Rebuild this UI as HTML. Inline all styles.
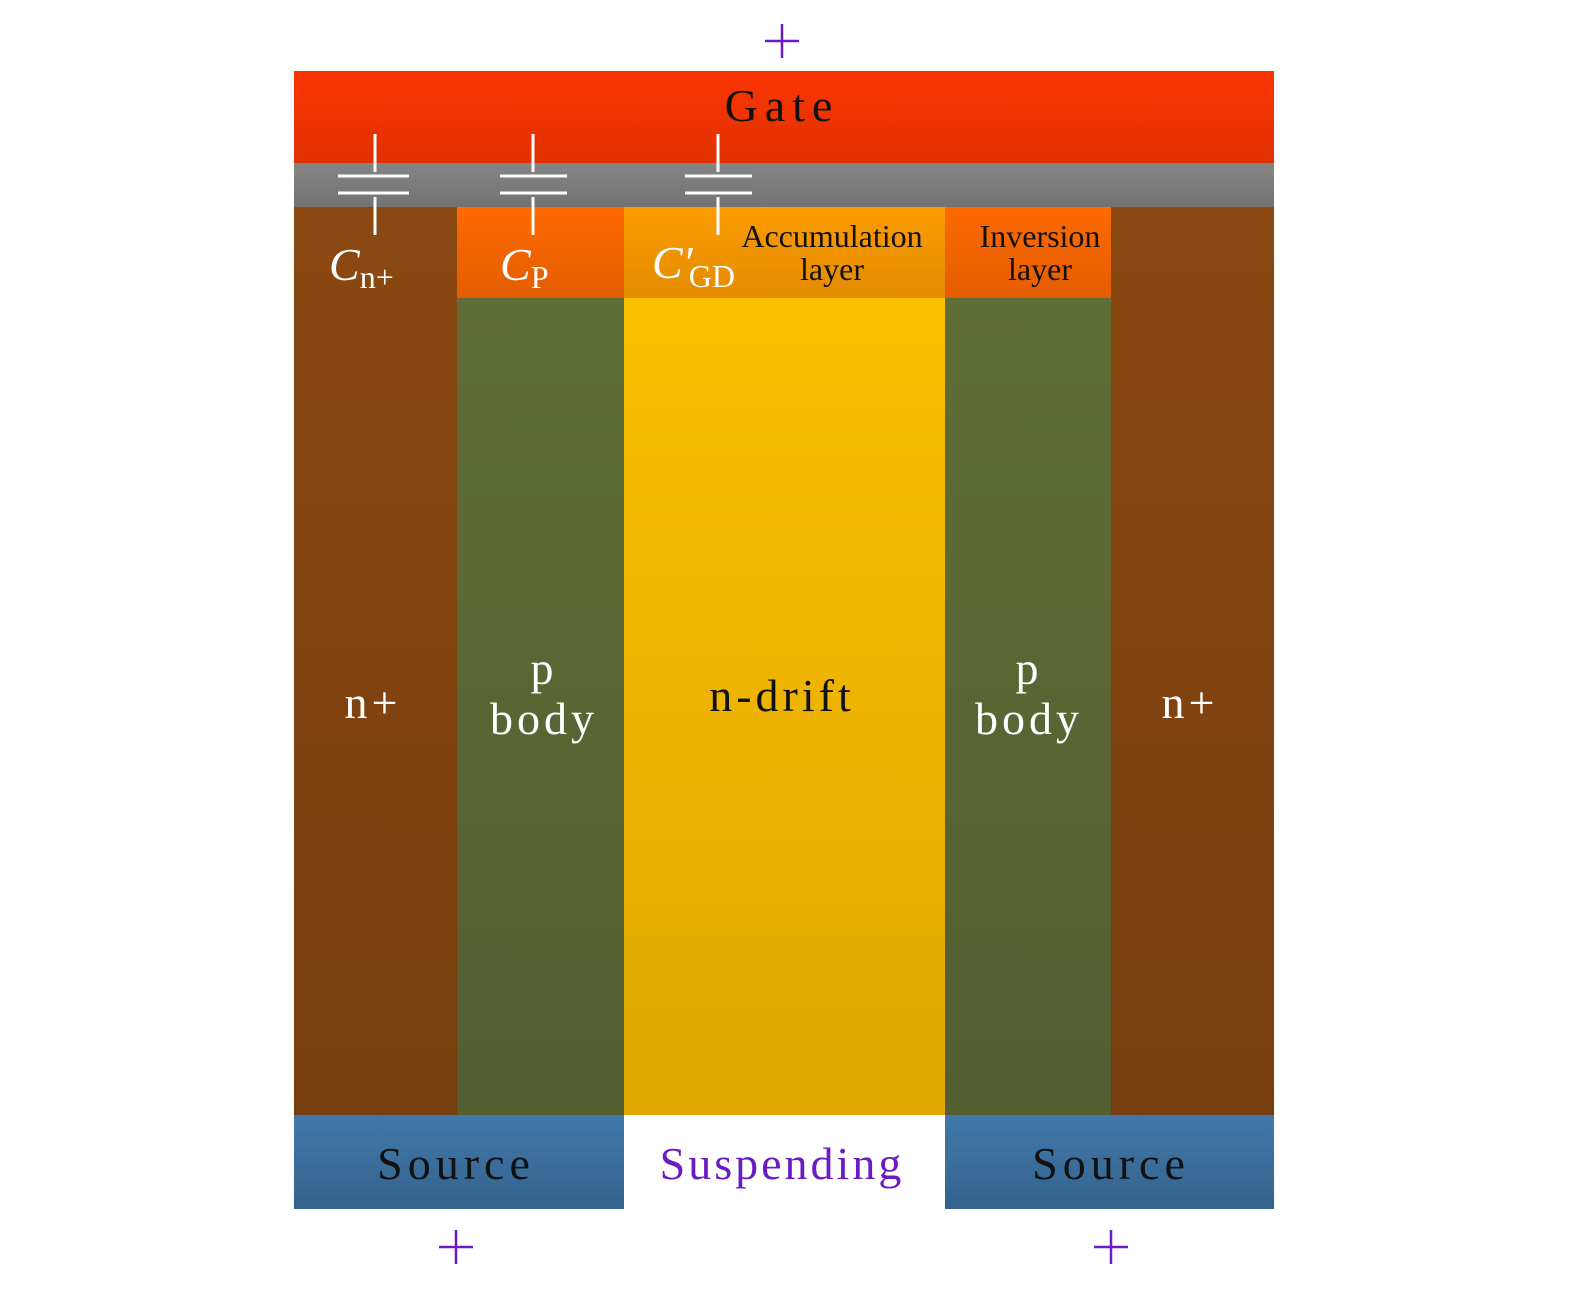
<!DOCTYPE html>
<html><head><style>html,body{margin:0;padding:0;background:#fff;}</style></head>
<body>
<svg width="1575" height="1289" xmlns="http://www.w3.org/2000/svg" font-family="Liberation Serif, serif">
<defs>
<linearGradient id="gate" x1="0" y1="0" x2="0" y2="1"><stop offset="0" stop-color="#fb3502"/><stop offset="1" stop-color="#e03100"/></linearGradient>
<linearGradient id="ox" x1="0" y1="0" x2="0" y2="1"><stop offset="0" stop-color="#858585"/><stop offset="1" stop-color="#727272"/></linearGradient>
<linearGradient id="np" x1="0" y1="0" x2="0" y2="1"><stop offset="0" stop-color="#8b4812"/><stop offset="1" stop-color="#763e0f"/></linearGradient>
<linearGradient id="pb" x1="0" y1="0" x2="0" y2="1"><stop offset="0" stop-color="#5f6d36"/><stop offset="1" stop-color="#535e31"/></linearGradient>
<linearGradient id="nd" x1="0" y1="0" x2="0" y2="1"><stop offset="0" stop-color="#fbc000"/><stop offset="1" stop-color="#dfa700"/></linearGradient>
<linearGradient id="inv" x1="0" y1="0" x2="0" y2="1"><stop offset="0" stop-color="#fe6a00"/><stop offset="1" stop-color="#e35d00"/></linearGradient>
<linearGradient id="acc" x1="0" y1="0" x2="0" y2="1"><stop offset="0" stop-color="#fc9c00"/><stop offset="1" stop-color="#e38b00"/></linearGradient>
<linearGradient id="src" x1="0" y1="0" x2="0" y2="1"><stop offset="0" stop-color="#4179aa"/><stop offset="1" stop-color="#35628e"/></linearGradient>
</defs>
<rect x="294" y="71" width="980" height="92" fill="url(#gate)"/>
<rect x="294" y="163" width="980" height="44" fill="url(#ox)"/>
<rect x="294" y="207" width="163" height="908" fill="url(#np)"/>
<rect x="1111" y="207" width="163" height="908" fill="url(#np)"/>
<rect x="457" y="298" width="167" height="817" fill="url(#pb)"/>
<rect x="945" y="298" width="166" height="817" fill="url(#pb)"/>
<rect x="624" y="298" width="321" height="817" fill="url(#nd)"/>
<rect x="457" y="207" width="167" height="91" fill="url(#inv)"/>
<rect x="945" y="207" width="166" height="91" fill="url(#inv)"/>
<rect x="624" y="207" width="321" height="91" fill="url(#acc)"/>
<rect x="294" y="1115" width="330" height="94" fill="url(#src)"/>
<rect x="945" y="1115" width="329" height="94" fill="url(#src)"/>
<g stroke="#fff" stroke-width="3">
<line x1="375" y1="134" x2="375" y2="172"/><line x1="338" y1="176" x2="409" y2="176"/><line x1="338" y1="193" x2="409" y2="193"/><line x1="375" y1="197" x2="375" y2="235"/>
<line x1="533" y1="134" x2="533" y2="172"/><line x1="500" y1="176" x2="567" y2="176"/><line x1="500" y1="193" x2="567" y2="193"/><line x1="533" y1="197" x2="533" y2="235"/>
<line x1="718" y1="134" x2="718" y2="172"/><line x1="685" y1="176" x2="752" y2="176"/><line x1="685" y1="193" x2="752" y2="193"/><line x1="718" y1="197" x2="718" y2="235"/>
</g>
<g font-size="46" text-anchor="middle" letter-spacing="4">
<text x="782" y="121" fill="#111" letter-spacing="7">Gate</text>
<text x="782" y="711" fill="#111">n-drift</text>
<text x="373" y="718" fill="#fff">n+</text>
<text x="1190" y="718" fill="#fff">n+</text>
<text x="544" y="684" fill="#fff">p</text>
<text x="544" y="734" fill="#fff">body</text>
<text x="1029" y="684" fill="#fff">p</text>
<text x="1029" y="734" fill="#fff">body</text>
<text x="456" y="1179" fill="#111" letter-spacing="5">Source</text>
<text x="1111" y="1179" fill="#111" letter-spacing="5">Source</text>
<text x="782" y="1179" fill="#6a1cc4" letter-spacing="3">Suspending</text>
</g>
<g font-size="32" text-anchor="middle" fill="#111">
<text x="832" y="247">Accumulation</text><text x="832" y="280">layer</text>
<text x="1040" y="247">Inversion</text><text x="1040" y="280">layer</text>
</g>
<g fill="#fff" font-style="italic" font-size="46">
<text x="329" y="280">C<tspan font-style="normal" font-size="32" dy="8">n+</tspan></text>
<text x="500" y="280">C<tspan font-style="normal" font-size="32" dy="8">P</tspan></text>
<text x="652" y="278">C′<tspan font-style="normal" font-size="32" dy="9" dx="-4">GD</tspan></text>
</g>
<g stroke="#6a1cc4" stroke-width="2.5">
<line x1="765" y1="41" x2="799" y2="41"/><line x1="782" y1="24" x2="782" y2="58"/>
<line x1="439" y1="1247" x2="473" y2="1247"/><line x1="456" y1="1230" x2="456" y2="1264"/>
<line x1="1094" y1="1247" x2="1128" y2="1247"/><line x1="1111" y1="1230" x2="1111" y2="1264"/>
</g>
</svg>
</body></html>
